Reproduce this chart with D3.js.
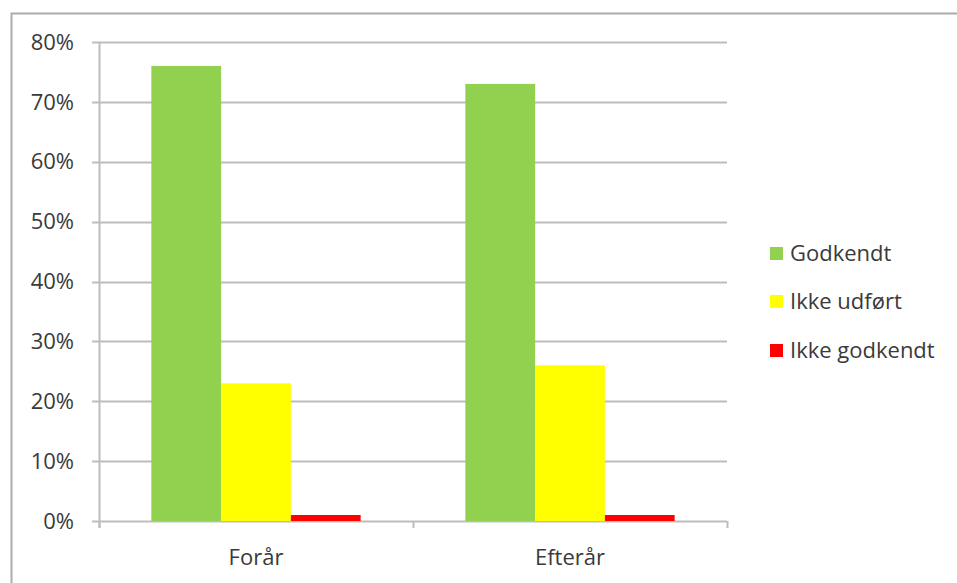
<!DOCTYPE html>
<html>
<head>
<meta charset="utf-8">
<script src="https://cdn.jsdelivr.net/npm/d3@7"></script>
<style>
  body { margin: 0; background: #fff; }
  text { font-family: "Open Sans", "Noto Sans", sans-serif; fill: #3a3a3a; }
</style>
</head>
<body>
<div id="chart"></div>
<script>
// Data
const categories = ["Forår", "Efterår"];
const seriesNames = ["Godkendt", "Ikke udført", "Ikke godkendt"];
const seriesColors = ["#92D050", "#FFFF00", "#FF0000"];
const godkendt = [0.76, 0.73];
const ikkeUdfoert = [0.23, 0.26];
const ikkeGodkendt = [0.01, 0.01];
const yTicks = [0, 0.1, 0.2, 0.3, 0.4, 0.5, 0.6, 0.7, 0.8];

const seriesValues = [godkendt, ikkeUdfoert, ikkeGodkendt];

const width = 957, height = 583;
const margin = { left: 99, top: 42, right: 230, bottom: 62 };
const fontSize = '22px';

const svg = d3.select('#chart')
    .append('svg')
    .attr('width', width)
    .attr('height', height);

// Outer frame (only top and left edge visible)
svg.append('path')
    .attr('d', `M11.5,${height} V13.5 H${width}`)
    .attr('fill', 'none')
    .attr('stroke', '#ababab')
    .attr('stroke-width', 2);

const x0 = d3.scaleBand()
    .domain(categories)
    .range([margin.left, width - margin.right])
    .paddingInner(0)
    .paddingOuter(0);

const x1 = d3.scaleBand()
    .domain(seriesNames)
    .range([0, x0.bandwidth()])
    .paddingInner(0)
    .paddingOuter(0.75);

const y = d3.scaleLinear()
    .domain([0, 0.8])
    .range([height - margin.bottom, margin.top]);

// Gridlines
svg.append('g')
    .selectAll('line')
    .data(yTicks)
    .join('line')
    .attr('x1', margin.left - 7)
    .attr('x2', width - margin.right)
    .attr('y1', d => Math.round(y(d)) + 0.5)
    .attr('y2', d => Math.round(y(d)) + 0.5)
    .attr('stroke', '#bdbdbd')
    .attr('stroke-width', 2);

// Y axis line
svg.append('line')
    .attr('x1', margin.left + 0.5)
    .attr('x2', margin.left + 0.5)
    .attr('y1', y(0.8))
    .attr('y2', y(0) + 7)
    .attr('stroke', '#bdbdbd')
    .attr('stroke-width', 2);

// Category ticks
const catTicks = [margin.left, ...categories.map(c => x0(c) + x0.bandwidth())];
svg.append('g')
    .selectAll('line')
    .data(catTicks)
    .join('line')
    .attr('x1', d => d + 0.5)
    .attr('x2', d => d + 0.5)
    .attr('y1', y(0))
    .attr('y2', y(0) + 7)
    .attr('stroke', '#bdbdbd')
    .attr('stroke-width', 2);

// Y labels
svg.append('g')
    .selectAll('text')
    .data(yTicks)
    .join('text')
    .attr('x', 74)
    .attr('y', d => y(d))
    .attr('dy', '0.35em')
    .attr('text-anchor', 'end')
    .style('font-size', fontSize)
    .text(d => d3.format('.0%')(d));

// Bars
const groups = svg.append('g')
    .selectAll('g')
    .data(categories)
    .join('g')
    .attr('transform', c => `translate(${x0(c)},0)`);

groups.selectAll('rect')
    .data((c, i) => seriesNames.map((s, j) => ({ s, j, v: seriesValues[j][i] })))
    .join('rect')
    .attr('x', d => x1(d.s))
    .attr('width', x1.bandwidth())
    .attr('y', d => y(d.v))
    .attr('height', d => y(0) - y(d.v))
    .attr('fill', d => seriesColors[d.j]);

// Category labels
svg.append('g')
    .selectAll('text')
    .data(categories)
    .join('text')
    .attr('x', c => x0(c) + x0.bandwidth() / 2)
    .attr('y', 557)
    .attr('dy', '0.35em')
    .attr('text-anchor', 'middle')
    .style('font-size', fontSize)
    .text(c => c);

// Legend
const legendY = [253, 301, 350];
const legend = svg.append('g')
    .selectAll('g')
    .data(seriesNames)
    .join('g')
    .attr('transform', (d, i) => `translate(770,${legendY[i]})`);

legend.append('rect')
    .attr('x', 0)
    .attr('y', -6)
    .attr('width', 13)
    .attr('height', 13)
    .attr('fill', (d, i) => seriesColors[i]);

legend.append('text')
    .attr('x', 20)
    .attr('y', 0)
    .attr('dy', '0.35em')
    .style('font-size', fontSize)
    .text(d => d);
</script>
</body>
</html>
